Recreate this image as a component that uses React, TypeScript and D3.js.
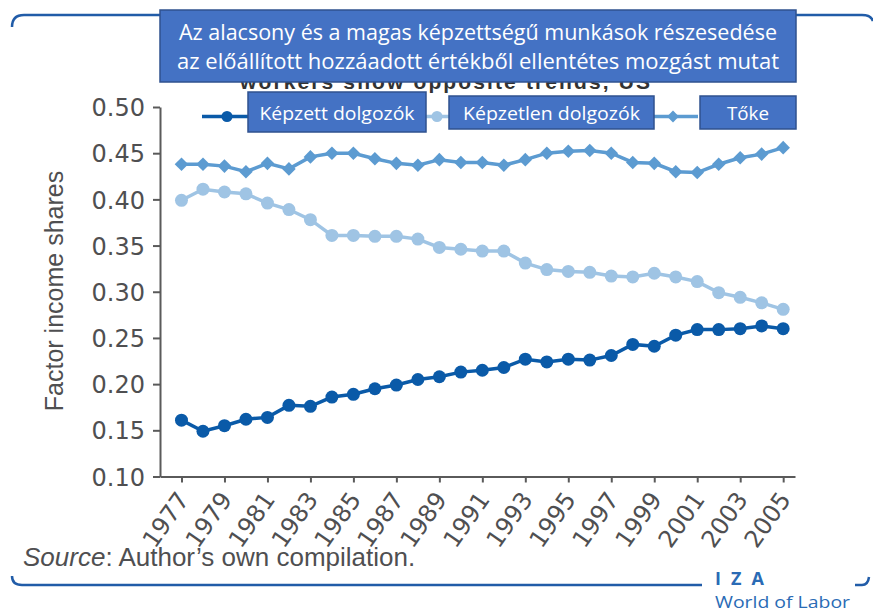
import React, { useEffect, useRef } from 'react';
import * as d3 from 'd3';

const years = [
  1977, 1978, 1979, 1980, 1981, 1982, 1983, 1984, 1985, 1986, 1987, 1988, 1989, 1990, 1991,
  1992, 1993, 1994, 1995, 1996, 1997, 1998, 1999, 2000, 2001, 2002, 2003, 2004, 2005,
];
const skilled = [
  0.161, 0.149, 0.155, 0.162, 0.164, 0.177, 0.176, 0.186, 0.189, 0.195, 0.199, 0.205, 0.208, 0.213, 0.215,
  0.218, 0.227, 0.224, 0.227, 0.226, 0.231, 0.243, 0.241, 0.253, 0.259, 0.259, 0.26, 0.263, 0.26,
];
const unskilled = [
  0.399, 0.411, 0.408, 0.406, 0.396, 0.389, 0.378, 0.361, 0.361, 0.36, 0.36, 0.357, 0.348, 0.346, 0.344,
  0.344, 0.331, 0.324, 0.322, 0.321, 0.317, 0.316, 0.32, 0.316, 0.311, 0.299, 0.294, 0.288, 0.281,
];
const capital = [
  0.438, 0.438, 0.436, 0.43, 0.439, 0.433, 0.446, 0.45, 0.45, 0.444, 0.439, 0.437, 0.443, 0.44, 0.44,
  0.437, 0.443, 0.45, 0.452, 0.453, 0.45, 0.44, 0.439, 0.43, 0.429, 0.438, 0.445, 0.449, 0.456,
];
const yTicks = [0.1, 0.15, 0.2, 0.25, 0.3, 0.35, 0.4, 0.45, 0.5];
const xTicks = [1977, 1979, 1981, 1983, 1985, 1987, 1989, 1991, 1993, 1995, 1997, 1999, 2001, 2003, 2005];
const titleLines = [
  'Az alacsony és a magas képzettségű munkások részesedése',
  'az előállított hozzáadott értékből ellentétes mozgást mutat',
];
const hiddenTitle = 'workers show opposite trends, US';
const legendLabels = ['Képzett dolgozók', 'Képzetlen dolgozók', 'Tőke'];
const yTitle = 'Factor income shares';
const sourceNote = ': Author\u2019s own compilation.';

const W = 873;
const H = 613;
const left = 160;
const right = 795;
const top = 107;
const bottom = 476.5;

const darkBlue = '#0a5aa8';
const lightBlue = '#9fc4e4';
const midBlue = '#5c9bd1';
const boxFill = '#4472c4';
const boxStroke = '#2f528f';
const frameBlue = '#215ca8';
const axisColor = '#5a5a5a';
const textColor = '#4f4f51';

const x = d3.scaleLinear().domain([1976, 2005.55]).range([left, right]);
const y = d3.scaleLinear().domain([0.1, 0.5]).range([bottom, top]);

const line = d3
  .line<number>()
  .x((d, i) => x(years[i]))
  .y((d) => y(d));

const diamond = d3.symbol().type(d3.symbolSquare).size(92)();
const legendDiamond = d3.symbol().type(d3.symbolSquare).size(70)();

// legend boxes (cover the original legend text)
const legendBoxes = [
  { x0: 248, x1: 426, y0: 92, y1: 132, mark: 227, len: 155 },
  { x0: 449, x1: 654, y0: 96, y1: 129, mark: 437, len: 177 },
  { x0: 700, x1: 796, y0: 96, y1: 129, mark: 673, len: 42 },
];

const App = () => {
  const yAxisRef = useRef<SVGGElement>(null);
  const xAxisRef = useRef<SVGGElement>(null);

  useEffect(() => {
    const gy = d3.select(yAxisRef.current);
    gy.call(
      d3
        .axisLeft(y)
        .tickValues(yTicks)
        .tickFormat(d3.format('.2f'))
        .tickSize(7)
        .tickPadding(8)
        .tickSizeOuter(0)
    );
    gy.select('.domain').attr('stroke', axisColor).attr('stroke-width', 2);
    gy.selectAll('.tick line').attr('stroke', axisColor).attr('stroke-width', 2);
    gy.selectAll('.tick text')
      .attr('fill', textColor)
      .attr('font-family', 'DejaVu Sans')
      .attr('font-size', 24)
      .attr('dy', '0.36em');

    const gx = d3.select(xAxisRef.current);
    gx.call(d3.axisBottom(x).tickValues(xTicks).tickFormat(d3.format('d')).tickSize(6).tickSizeOuter(0));
    gx.select('.domain').attr('stroke', axisColor).attr('stroke-width', 2);
    gx.selectAll('.tick line').attr('stroke', axisColor).attr('stroke-width', 2);
    gx.selectAll('.tick text')
      .attr('fill', textColor)
      .attr('font-family', 'DejaVu Sans')
      .attr('font-size', 24)
      .attr('text-anchor', 'end')
      .attr('x', 0)
      .attr('y', 0)
      .attr('dy', 0)
      .attr('transform', 'translate(8,23) rotate(-55)');
  }, []);

  return (
    <svg
      width={W}
      height={H}
      style={{ position: 'absolute', left: 0, top: 0, background: '#fff' }}
    >
      <defs>
        <clipPath id="underTitle">
          <rect x={150} y={82} width={660} height={14} />
        </clipPath>
      </defs>

      {/* frame */}
      <g fill="none" stroke={frameBlue} strokeWidth={2.5}>
        <path d="M12,27 Q12,15 24,15 L862,15 Q871,15 873,21" />
        <path d="M12,576 Q12,585 22,585 L702,585" />
        <path d="M855,585 L862,585 Q868,585 869,577" />
      </g>

      {/* original title, mostly covered by the box */}
      <text
        x={240}
        y={89}
        fontFamily="Liberation Sans"
        fontWeight="bold"
        fontSize={21}
        fill="#333"
        textLength={410}
        clipPath="url(#underTitle)"
      >
        {hiddenTitle}
      </text>

      {/* title box */}
      <rect x={160} y={10} width={636} height={72} fill={boxFill} stroke={boxStroke} strokeWidth={1.5} />
      {titleLines.map((t, i) => (
        <text
          key={i}
          x={478}
          y={40 + i * 28.5}
          textAnchor="middle"
          fontFamily="Open Sans"
          fontSize={21}
          fill="#fff"
          textLength={i === 0 ? 598 : 602}
          lengthAdjust="spacingAndGlyphs"
        >
          {t}
        </text>
      ))}

      {/* y title */}
      <text
        transform="translate(63,291) rotate(-90)"
        textAnchor="middle"
        fontFamily="Liberation Sans"
        fontSize={25}
        fill={textColor}
      >
        {yTitle}
      </text>

      <g ref={yAxisRef} transform={`translate(${left},0)`} />
      <g ref={xAxisRef} transform={`translate(0,${bottom})`} />

      {/* series */}
      <path d={line(capital) || ''} fill="none" stroke={midBlue} strokeWidth={3.5} />
      {capital.map((v, i) => (
        <path key={i} d={diamond} transform={`translate(${x(years[i])},${y(v)}) rotate(45)`} fill={midBlue} />
      ))}
      <path d={line(unskilled) || ''} fill="none" stroke={lightBlue} strokeWidth={3.5} />
      {unskilled.map((v, i) => (
        <circle key={i} cx={x(years[i])} cy={y(v)} r={6.5} fill={lightBlue} />
      ))}
      <path d={line(skilled) || ''} fill="none" stroke={darkBlue} strokeWidth={3.5} />
      {skilled.map((v, i) => (
        <circle key={i} cx={x(years[i])} cy={y(v)} r={6.5} fill={darkBlue} />
      ))}

      {/* legend */}
      <g>
        <line x1={202} x2={252} y1={116.5} y2={116.5} stroke={darkBlue} strokeWidth={3.5} />
        <circle cx={227} cy={116.5} r={5.5} fill={darkBlue} />
        <line x1={412} x2={462} y1={116.5} y2={116.5} stroke={lightBlue} strokeWidth={3.5} />
        <circle cx={437} cy={116.5} r={5.5} fill={lightBlue} />
        <line x1={648} x2={698} y1={116.5} y2={116.5} stroke={midBlue} strokeWidth={3.5} />
        <path d={legendDiamond} transform="translate(673,116.5) rotate(45)" fill={midBlue} />
        {legendBoxes.map((b, i) => (
          <g key={i}>
            <rect x={b.x0} y={b.y0} width={b.x1 - b.x0} height={b.y1 - b.y0} fill={boxFill} stroke={boxStroke} strokeWidth={1.5} />
            <text
              x={(b.x0 + b.x1) / 2}
              y={119.5}
              textAnchor="middle"
              fontFamily="Open Sans"
              fontSize={18}
              fill="#fff"
              textLength={b.len}
              lengthAdjust="spacingAndGlyphs"
            >
              {legendLabels[i]}
            </text>
          </g>
        ))}
      </g>

      {/* source */}
      <text x={23} y={566} fontFamily="Liberation Sans" fontSize={26} fill={textColor}>
        <tspan fontStyle="italic">Source</tspan>
        {sourceNote}
      </text>

      {/* IZA logo */}
      <text x={715} y={585} fontFamily="Open Sans" fontWeight="bold" fontSize={18} fill="#2a6bb5" letterSpacing={10}>
        IZA
      </text>
      <text x={715} y={608} fontFamily="Open Sans" fontSize={17} fill="#2a6bb5" textLength={135} lengthAdjust="spacingAndGlyphs">
        World of Labor
      </text>
    </svg>
  );
};

export default App;
